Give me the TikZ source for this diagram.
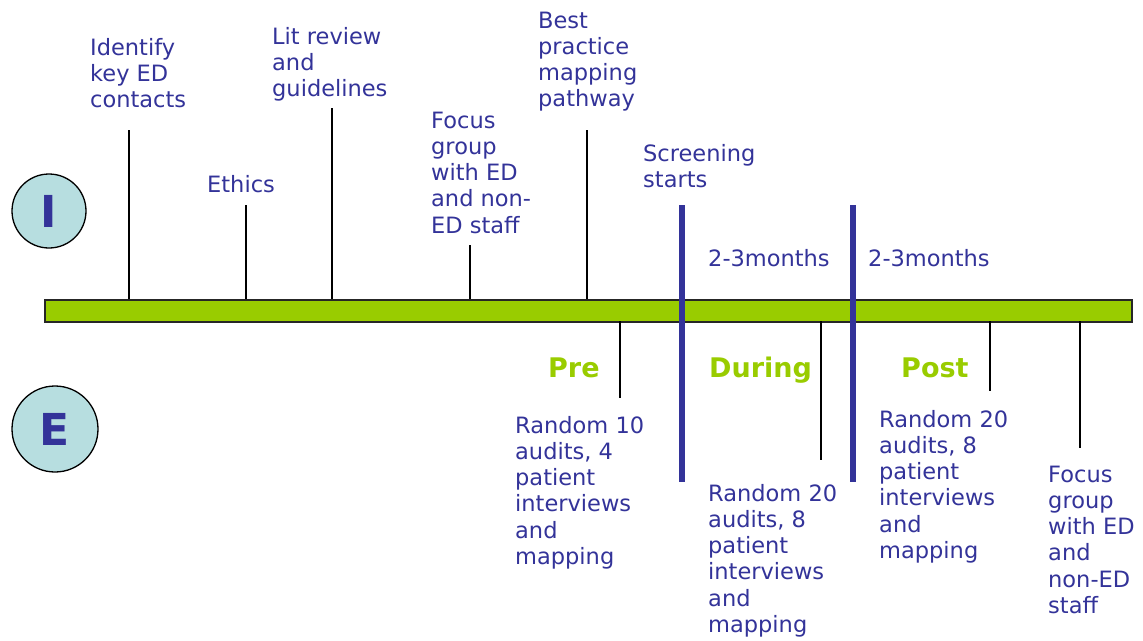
\documentclass[tikz,border=0pt]{standalone}
\usepackage{fontspec}
\setmainfont{DejaVu Sans}
\definecolor{navy}{HTML}{333399}
\definecolor{lime}{HTML}{99CC00}
\definecolor{pale}{HTML}{B7DEE0}
\newcommand\stacktext[1]{\begin{tabular}[t]{@{}l@{}}#1\end{tabular}}
\begin{document}
\begin{tikzpicture}[x=1pt,y=-1pt,
  lbl/.style={anchor=base west,inner sep=0pt,text=navy,font=\fontsize{22.5}{26.3}\selectfont},
  phase/.style={anchor=base west,inner sep=0pt,text=lime,font=\fontsize{27}{30}\selectfont\bfseries},
  tick/.style={draw=black,line width=1.4pt},
  divider/.style={draw=navy,line width=6pt},
  badge/.style={circle,draw=black,line width=1.3pt,fill=pale,text=navy,inner sep=0pt,font=\fontsize{44}{44}\selectfont\bfseries}]
\useasboundingbox (0,0) rectangle (1143,640);

% timeline bar
\node[draw=black!85,line width=1.5pt,fill=lime,minimum width=1087pt,minimum height=22pt,inner sep=0pt,anchor=north west] (bar) at (44,299) {};

% row badges
\node[badge,minimum size=74pt] (I) at (49,211) {I};
\node[badge,minimum size=86pt] (E) at (55,429) {E};

% milestones above the bar
\node[lbl] (identify) at (90,55) {\stacktext{Identify\\key ED\\contacts}};
\node[lbl] (ethics) at (207,192) {Ethics};
\node[lbl] (lit) at (272,44) {\stacktext{Lit review\\and\\guidelines}};
\node[lbl] (focus1) at (431,128) {\stacktext{Focus\\group\\with ED\\and non-\\ED staff}};
\node[lbl] (best) at (538,28) {\stacktext{Best\\practice\\mapping\\pathway}};
\node[lbl] (screen) at (643,161) {\stacktext{Screening\\starts}};
\node[lbl] (dur1) at (708,266) {2-3months};
\node[lbl] (dur2) at (868,266) {2-3months};

\coordinate (t1) at (129,130);  \coordinate (b1) at (129,299);
\coordinate (t2) at (246,205);  \coordinate (b2) at (246,299);
\coordinate (t3) at (332,108);  \coordinate (b3) at (332,299);
\coordinate (t4) at (470,245);  \coordinate (b4) at (470,299);
\coordinate (t5) at (587,130);  \coordinate (b5) at (587,299);
\draw[tick] (t1) -- (b1);
\draw[tick] (t2) -- (b2);
\draw[tick] (t3) -- (b3);
\draw[tick] (t4) -- (b4);
\draw[tick] (t5) -- (b5);

% phase dividers
\coordinate (d1a) at (682,205); \coordinate (d1b) at (682,482);
\coordinate (d2a) at (853,205); \coordinate (d2b) at (853,482);
\draw[divider] (d1a) -- (d1b);
\draw[divider] (d2a) -- (d2b);

% phases
\node[phase] (pre) at (548,377) {Pre};
\node[phase] (during) at (709,377) {During};
\node[phase] (post) at (901,377) {Post};

% evaluation points below the bar
\coordinate (s1) at (620,321);  \coordinate (e1) at (620,398);
\coordinate (s2) at (821,321);  \coordinate (e2) at (821,460);
\coordinate (s3) at (990,321);  \coordinate (e3) at (990,391);
\coordinate (s4) at (1080,321); \coordinate (e4) at (1080,448);
\draw[tick] (s1) -- (e1);
\draw[tick] (s2) -- (e2);
\draw[tick] (s3) -- (e3);
\draw[tick] (s4) -- (e4);

\node[lbl] (audit1) at (515,433) {\stacktext{Random 10\\audits, 4\\patient\\interviews\\and\\mapping}};
\node[lbl] (audit2) at (708,501) {\stacktext{Random 20\\audits, 8\\patient\\interviews\\and\\mapping}};
\node[lbl] (audit3) at (879,427) {\stacktext{Random 20\\audits, 8\\patient\\interviews\\and\\mapping}};
\node[lbl] (focus2) at (1048,482) {\stacktext{Focus\\group\\with ED\\and\\non-ED\\staff}};
\end{tikzpicture}
\end{document}
